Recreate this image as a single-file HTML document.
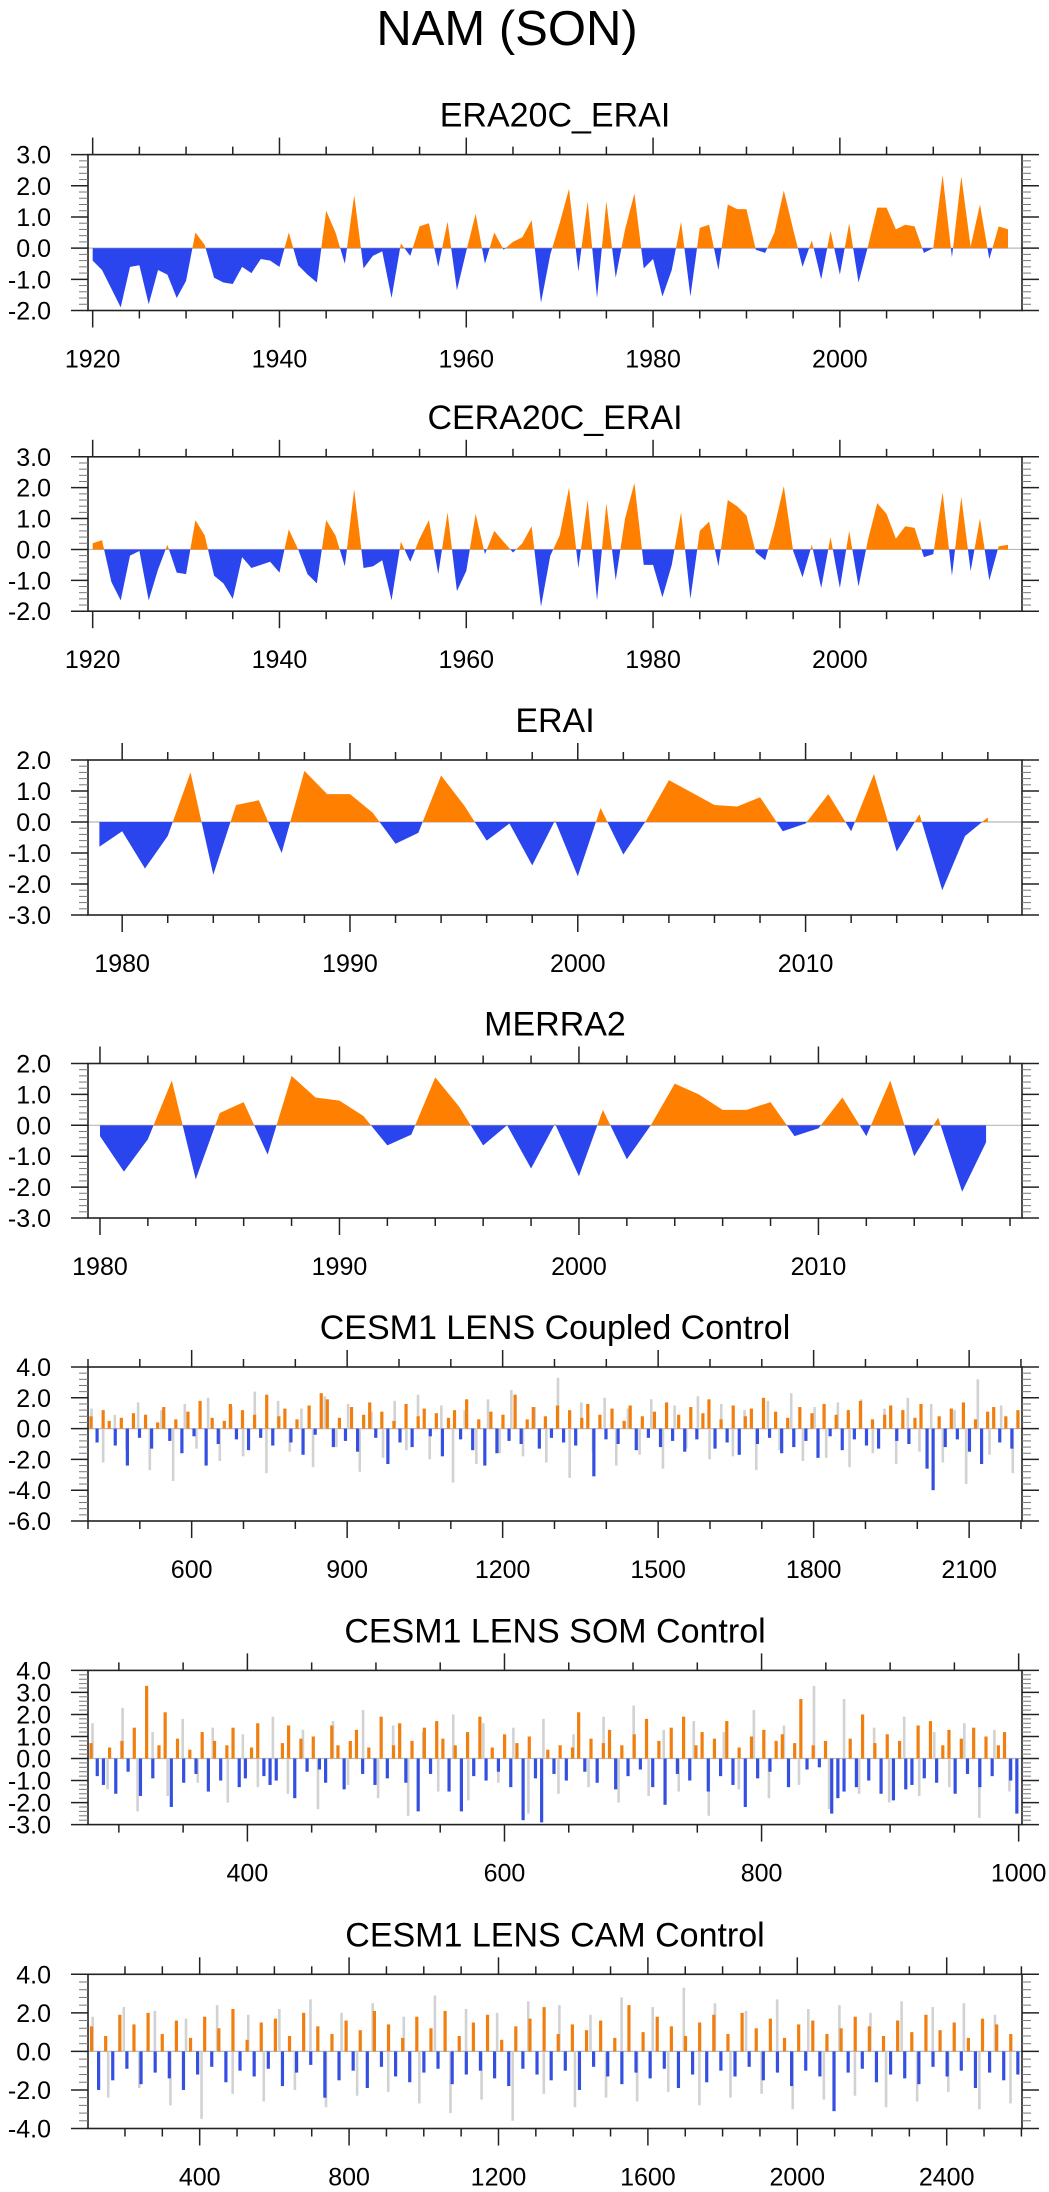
<!DOCTYPE html>
<html><head><meta charset="utf-8"><title>NAM (SON)</title>
<style>
html,body{margin:0;padding:0;background:#fff;}
svg{display:block;font-family:"Liberation Sans",Arial,sans-serif;}
</style></head>
<body>
<svg id="fig" width="1049" height="2192" viewBox="0 0 1049 2192" xmlns="http://www.w3.org/2000/svg">
<rect width="1049" height="2192" fill="#fff"/>
<text x="507" y="45" font-size="49" text-anchor="middle" fill="#000">NAM (SON)</text>
</svg>
<script>
// ---------- data ----------
const era20cStartYear = 1920;
const era20cValues = [-0.4,-0.7,-1.3,-1.9,-0.6,-0.55,-1.8,-0.7,-0.85,-1.6,-1.05,0.5,0.1,-0.95,-1.1,-1.15,-0.6,-0.8,-0.35,-0.4,
 -0.6,0.5,-0.55,-0.85,-1.1,1.2,0.5,-0.5,1.7,-0.65,-0.25,-0.1,-1.6,0.15,-0.25,0.7,0.8,-0.6,0.85,-1.35,
 -0.1,1.1,-0.5,0.5,-0.05,0.2,0.35,0.9,-1.75,-0.2,0.8,1.9,-0.75,1.5,-1.6,1.5,-0.95,0.6,1.75,-0.65,
 -0.35,-1.55,-0.7,0.85,-1.55,0.65,0.75,-0.7,1.4,1.25,1.25,-0.05,-0.15,0.5,1.85,0.6,-0.6,0.25,-1.0,0.55,
 -0.85,0.8,-1.1,0.05,1.3,1.3,0.6,0.75,0.7,-0.15,0.0,2.35,-0.3,2.3,0.05,1.4,-0.35,0.7,0.6];
const cera20cStartYear = 1920;
const cera20cValues = [0.2,0.3,-1.05,-1.65,-0.2,-0.05,-1.65,-0.65,0.15,-0.75,-0.8,0.95,0.45,-0.85,-1.1,-1.6,-0.25,-0.6,-0.5,-0.4,
 -0.75,0.65,0.0,-0.8,-1.1,0.95,0.45,-0.55,1.95,-0.6,-0.55,-0.35,-1.65,0.25,-0.4,0.35,0.95,-0.8,1.2,-1.35,
 -0.7,1.15,-0.15,0.6,0.25,-0.1,0.2,0.75,-1.85,-0.2,0.45,2.0,-0.6,1.6,-1.65,1.5,-1.0,1.0,2.15,-0.5,
 -0.5,-1.55,-0.5,1.2,-1.6,0.6,0.9,-0.55,1.6,1.4,1.1,-0.1,-0.35,0.75,2.05,-0.05,-0.9,0.15,-1.25,0.4,
 -1.25,0.6,-1.2,0.3,1.5,1.15,0.35,0.75,0.7,-0.25,-0.15,1.85,-0.85,1.7,-0.7,1.0,-1.0,0.1,0.15];
const eraiStartYear = 1979;
const eraiValues = [-0.8,-0.3,-1.5,-0.45,1.6,-1.7,0.55,0.7,-1.0,1.65,0.9,0.9,0.3,-0.7,-0.35,1.5,0.55,-0.6,-0.05,-1.4,
 0.05,-1.75,0.45,-1.05,0.05,1.35,0.95,0.55,0.5,0.8,-0.3,-0.05,0.9,-0.3,1.55,-0.95,0.25,-2.2,-0.45,0.15];
const merra2StartYear = 1980;
const merra2Values = [-0.35,-1.5,-0.45,1.45,-1.75,0.4,0.75,-0.95,1.6,0.9,0.8,0.3,-0.65,-0.3,1.55,0.6,-0.65,0.0,-1.4,0.05,
 -1.65,0.5,-1.1,0.0,1.35,1.0,0.5,0.5,0.75,-0.35,-0.1,0.9,-0.35,1.45,-1.0,0.25,-2.15,-0.55];

const coupledValues = [0.8,-0.9,1.2,0.5,-1.1,0.7,-2.4,1.0,-0.6,0.9,-1.3,0.4,1.4,-0.8,0.6,-1.6,1.1,-0.5,1.8,-2.4,0.7,-1.0,0.5,1.6,-0.7,1.2,-1.4,0.9,-0.6,2.2,-1.1,0.8,1.3,-0.9,0.6,-1.7,1.5,-0.4,2.3,1.9,-1.2,0.7,-0.8,1.4,-1.5,0.9,1.7,-0.6,1.1,-2.3,0.5,-0.9,1.6,-1.2,0.8,1.3,-0.5,1.0,-1.8,0.7,1.2,-0.7,1.9,-1.4,0.6,-2.4,1.1,-1.6,0.9,-0.8,2.2,-1.0,0.6,1.4,-1.3,0.8,-0.6,1.5,-0.9,1.2,-1.1,0.7,1.6,-3.1,0.9,-0.7,1.3,-1.0,0.5,1.5,-1.4,0.8,-0.6,1.1,-1.2,1.7,-0.8,0.9,-1.5,1.4,-0.7,1.0,1.9,-1.3,0.6,-0.9,1.5,-1.7,0.8,1.3,-1.0,2.0,-0.6,1.1,-1.6,0.7,-1.2,1.4,-0.8,1.0,-1.9,1.6,-0.5,0.9,-1.4,1.2,-0.7,1.8,-1.1,0.6,-1.3,0.9,1.5,-0.8,1.2,-1.0,0.7,1.6,-2.6,-4.0,0.8,-1.2,1.3,-0.7,1.7,-1.5,0.6,-2.3,1.1,1.4,-0.9,0.8,-1.3,1.2];
const coupledGray = [1.3,-2.2,0.9,-1.4,1.7,-2.7,1.2,-3.4,1.6,-1.3,2.0,-2.1,1.4,-1.8,2.4,-2.9,1.8,-1.5,1.3,-2.5,2.1,-1.2,1.6,-2.8,1.1,-1.9,1.8,-1.4,2.2,-2.0,1.5,-3.5,1.2,-2.3,1.9,-1.6,2.5,-1.8,1.4,-2.2,3.3,-3.2,1.7,-1.5,2.0,-2.4,1.3,-1.7,1.9,-2.6,1.5,-1.3,2.1,-2.0,1.6,-1.8,1.2,-2.7,1.8,-1.4,2.3,-2.1,1.4,-1.9,1.7,-2.5,1.9,-1.6,1.3,-2.3,2.0,-1.5,1.6,-2.2,1.2,-3.6,3.2,-1.7,1.5,-2.9];
const somValues = [0.7,-0.8,-1.2,0.5,-1.6,0.8,-0.6,1.4,-1.7,3.3,-0.9,0.6,2.1,-2.2,0.9,-1.1,0.4,-0.7,1.2,-1.5,0.8,-1.0,0.6,1.4,-1.3,-0.9,0.5,1.6,-0.8,-1.2,-1.0,0.7,1.5,-1.8,0.9,-0.6,1.0,-0.5,-1.1,1.5,0.6,-1.4,0.8,1.3,-0.7,0.5,-1.2,1.9,-0.9,0.6,1.6,-1.1,0.8,-2.4,1.4,-0.7,1.7,0.9,-1.5,0.6,-2.4,1.2,-0.8,1.9,-1.0,0.5,-0.6,1.1,-1.3,0.7,-2.8,1.0,-0.9,-2.9,0.4,-0.7,0.6,-1.0,0.5,2.1,-0.6,0.9,-1.1,0.7,1.3,-1.4,0.6,-0.8,1.1,-0.5,1.8,-1.3,0.8,-2.1,1.4,-0.7,1.9,-1.0,0.6,1.2,-1.5,0.9,-0.8,1.7,-1.2,0.5,-2.2,1.0,-0.9,1.3,-0.6,0.8,1.1,-1.3,0.7,2.7,-0.5,0.6,-0.4,0.8,-2.5,-1.8,-1.5,0.9,-1.3,2.0,-1.0,0.7,-1.6,1.1,-1.9,0.8,-1.4,-1.2,1.5,-0.9,1.7,-1.1,0.6,1.3,-1.6,0.9,-0.7,1.4,-1.3,1.0,-0.8,0.6,1.2,-1.0,-2.5];
const somGray = [1.6,-1.4,2.3,-2.4,1.2,-1.7,1.8,-1.1,1.4,-2.0,1.1,-1.3,1.9,-1.6,1.3,-2.3,1.7,-1.2,2.2,-1.8,1.5,-2.6,1.2,-1.5,2.0,-1.9,1.6,-1.1,1.4,-2.5,1.8,-1.6,1.1,-1.3,1.9,-2.0,2.4,-1.7,1.3,-1.5,1.7,-2.6,1.2,-1.4,2.2,-1.8,1.5,-1.2,3.3,-2.3,2.7,-1.6,1.4,-2.0,1.9,-1.7,1.2,-1.3,1.6,-2.7,1.3,-1.5];
const camValues = [1.3,-2.0,0.8,-1.5,1.9,-0.9,1.4,-1.7,2.0,-1.1,0.9,-1.4,1.6,-2.0,0.7,-1.2,1.8,-0.8,1.2,-1.6,2.2,-1.0,0.6,-1.3,1.5,-0.9,1.7,-1.8,0.8,-1.1,2.0,-0.7,1.3,-2.4,0.9,-1.5,1.6,-1.0,1.1,-1.9,2.1,-0.8,1.4,-1.3,0.7,-1.6,1.8,-1.1,1.2,-0.9,2.1,-1.7,0.8,-1.2,1.5,-1.0,1.9,-1.4,0.6,-1.8,1.3,-0.9,1.7,-1.2,2.3,-1.5,0.9,-1.0,1.4,-2.0,1.1,-0.8,1.6,-1.3,0.7,-1.7,2.4,-1.1,1.0,-1.4,1.8,-0.9,1.3,-1.9,0.8,-1.2,1.5,-1.6,1.9,-1.0,0.9,-1.3,2.0,-0.8,1.2,-1.5,1.7,-1.1,0.7,-1.8,1.4,-1.0,1.6,-1.3,0.9,-3.1,1.2,-1.1,1.8,-0.9,1.3,-1.6,0.8,-1.2,1.6,-1.4,1.0,-1.7,1.9,-0.8,1.1,-1.3,1.5,-1.0,0.7,-1.9,1.7,-1.1,1.4,-1.5,0.9,-1.2];
const camGray = [1.8,-2.4,2.3,-1.9,2.1,-2.8,1.7,-3.5,2.4,-2.2,1.9,-2.6,2.2,-2.0,2.7,-2.9,2.0,-2.3,2.5,-2.1,1.8,-2.7,2.9,-3.2,2.2,-2.5,2.0,-3.6,2.6,-2.2,2.4,-2.9,1.9,-2.4,2.8,-2.6,2.3,-2.1,3.3,-2.8,2.5,-2.4,2.1,-2.2,2.7,-3.0,2.2,-2.5,2.4,-2.3,2.0,-2.9,2.6,-2.6,2.3,-2.1,2.5,-3.0,1.9,-2.7];

// ---------- helpers ----------
const NS = "http://www.w3.org/2000/svg";
const svg = document.getElementById("fig");
const L = 88, R = 1022;
const ORANGE = "#FF8000", BLUE = "#2B45EE";
function mk(tag, attrs, parent) {
  const e = document.createElementNS(NS, tag);
  for (const k in attrs) e.setAttribute(k, attrs[k]);
  (parent || svg).appendChild(e);
  return e;
}
function fmt(v) { return (Math.round(v * 10) / 10).toFixed(1); }

function drawPanel(cfg) {
  const g = mk("g", {});
  
  
  const sx = v => L + (v - cfg.xmin) / (cfg.xmax - cfg.xmin) * (R - L);
  const sy = v => cfg.bottom - (v - cfg.ymin) / (cfg.ymax - cfg.ymin) * (cfg.bottom - cfg.top);
  const zeroY = sy(0);
  const t = mk("text", {x: (L + R) / 2, y: cfg.top - 28, "font-size": 34, "text-anchor": "middle", fill: "#000"}, g);
  t.textContent = cfg.title;
  
  
  const zl = mk("line", {x1: L, x2: R, y1: zeroY, y2: zeroY, stroke: "#b8b8b8", "stroke-width": 1.2}, g);
  
  
  cfg.draw(g, sx, sy, zeroY);
  const fr = mk("rect", {x: L, y: cfg.top, width: R - L, height: cfg.bottom - cfg.top, fill: "none", stroke: "#222", "stroke-width": 1.6}, g);
  
  
  const xs = Math.ceil(cfg.xmin / cfg.xMinor);
  const xe = Math.floor(cfg.xmax / cfg.xMinor);
  for (let k = xs; k <= xe; k++) {
    const v = k * cfg.xMinor;
    const major = Math.abs(v / cfg.xMajor - Math.round(v / cfg.xMajor)) < 1e-6;
    const len = major ? 17 : 8;
    const x = sx(v);
    const a = mk("line", {x1: x, x2: x, y1: cfg.bottom, y2: cfg.bottom + len, stroke: "#222", "stroke-width": 1.5}, g);
    
    
    const b = mk("line", {x1: x, x2: x, y1: cfg.top, y2: cfg.top - len, stroke: "#222", "stroke-width": 1.5}, g);
    
    
    if (major) {
      const lb = mk("text", {x: x, y: cfg.bottom + 57, "font-size": 25, "text-anchor": "middle", fill: "#000"}, g);
      lb.textContent = String(v);
      
      
    }
  }
  const ys = Math.ceil(cfg.ymin / cfg.yMinor - 1e-6);
  const ye = Math.floor(cfg.ymax / cfg.yMinor + 1e-6);
  for (let k = ys; k <= ye; k++) {
    const v = k * cfg.yMinor;
    const major = Math.abs(v / cfg.yMajor - Math.round(v / cfg.yMajor)) < 1e-6;
    const len = major ? 17 : 9;
    const y = sy(v);
    const a = mk("line", {x1: L, x2: L - len, y1: y, y2: y, stroke: major ? "#222" : "#777", "stroke-width": major ? 1.5 : 1}, g);
    
    
    const b = mk("line", {x1: R, x2: R + len, y1: y, y2: y, stroke: major ? "#222" : "#777", "stroke-width": major ? 1.5 : 1}, g);
    
    
    if (major) {
      const lb = mk("text", {x: 51, y: y + 9, "font-size": 25, "text-anchor": "end", fill: "#000"}, g);
      lb.textContent = fmt(v);
      
      
    }
  }
}

let clipId = 0;
function areaDraw(startYear, values) {
  return function (g, sx, sy, zeroY) {
    let pts = sx(startYear) + "," + zeroY + " ";
    values.forEach((v, i) => { pts += sx(startYear + i) + "," + sy(v) + " "; });
    pts += sx(startYear + values.length - 1) + "," + zeroY;
    const ida = "clipA" + (clipId), idb = "clipB" + (clipId++);
    const defs = mk("defs", {}, g);
    const ca = mk("clipPath", {id: ida}, defs);
    mk("rect", {x: 0, y: 0, width: 1049, height: zeroY}, ca);
    const cb = mk("clipPath", {id: idb}, defs);
    mk("rect", {x: 0, y: zeroY, width: 1049, height: 2192 - zeroY}, cb);
    const pa = mk("polygon", {points: pts, fill: ORANGE, "clip-path": "url(#" + ida + ")"}, g);
    
    
    const pb = mk("polygon", {points: pts, fill: BLUE, "clip-path": "url(#" + idb + ")"}, g);
    
    
  };
}
function barDraw(x0, x1, values, gray) {
  return function (g, sx, sy, zeroY) {
    const gn = gray.length, span = x1 - x0;
    gray.forEach((v, i) => {
      const x = sx(x0 + (i + 0.3) * span / gn);
      const b = mk("line", {x1: x, x2: x, y1: zeroY, y2: sy(v), stroke: "#d2d2d2", "stroke-width": 2.6}, g);
      
      
    });
    const n = values.length;
    values.forEach((v, i) => {
      const x = sx(x0 + (i + 0.5) * span / n);
      const b = mk("line", {x1: x, x2: x, y1: zeroY, y2: sy(v), stroke: v >= 0 ? "#F07F10" : "#3550E0", "stroke-width": 3.2}, g);
      
      
    });
  };
}

drawPanel({name: "era20c-erai-panel", title: "ERA20C_ERAI", top: 154.6, bottom: 310.5, xmin: 1919.5, xmax: 2019.5, ymin: -2, ymax: 3,
  xMajor: 20, xMinor: 5, yMajor: 1, yMinor: 0.2, draw: areaDraw(era20cStartYear, era20cValues)});
drawPanel({name: "cera20c-erai-panel", title: "CERA20C_ERAI", top: 456.8, bottom: 611.2, xmin: 1919.5, xmax: 2019.5, ymin: -2, ymax: 3,
  xMajor: 20, xMinor: 5, yMajor: 1, yMinor: 0.2, draw: areaDraw(cera20cStartYear, cera20cValues)});
drawPanel({name: "erai-panel", title: "ERAI", top: 760, bottom: 915, xmin: 1978.5, xmax: 2019.5, ymin: -3, ymax: 2,
  xMajor: 10, xMinor: 2, yMajor: 1, yMinor: 0.2, draw: areaDraw(eraiStartYear, eraiValues)});
drawPanel({name: "merra2-panel", title: "MERRA2", top: 1063.5, bottom: 1218, xmin: 1979.5, xmax: 2018.5, ymin: -3, ymax: 2,
  xMajor: 10, xMinor: 2, yMajor: 1, yMinor: 0.2, draw: areaDraw(merra2StartYear, merra2Values)});
drawPanel({name: "coupled-control-panel", title: "CESM1 LENS Coupled Control", top: 1367, bottom: 1521, xmin: 400, xmax: 2202, ymin: -6, ymax: 4,
  xMajor: 300, xMinor: 100, yMajor: 2, yMinor: 0.4, draw: barDraw(400, 2200, coupledValues, coupledGray)});
drawPanel({name: "som-control-panel", title: "CESM1 LENS SOM Control", top: 1670.4, bottom: 1824.6, xmin: 276, xmax: 1002.6, ymin: -3, ymax: 4,
  xMajor: 200, xMinor: 50, yMajor: 1, yMinor: 0.2, draw: barDraw(276, 1001, somValues, somGray)});
drawPanel({name: "cam-control-panel", title: "CESM1 LENS CAM Control", top: 1974.3, bottom: 2128.5, xmin: 101, xmax: 2601.6, ymin: -4, ymax: 4,
  xMajor: 400, xMinor: 100, yMajor: 2, yMinor: 0.4, draw: barDraw(101, 2600, camValues, camGray)});
</script>
</body></html>
